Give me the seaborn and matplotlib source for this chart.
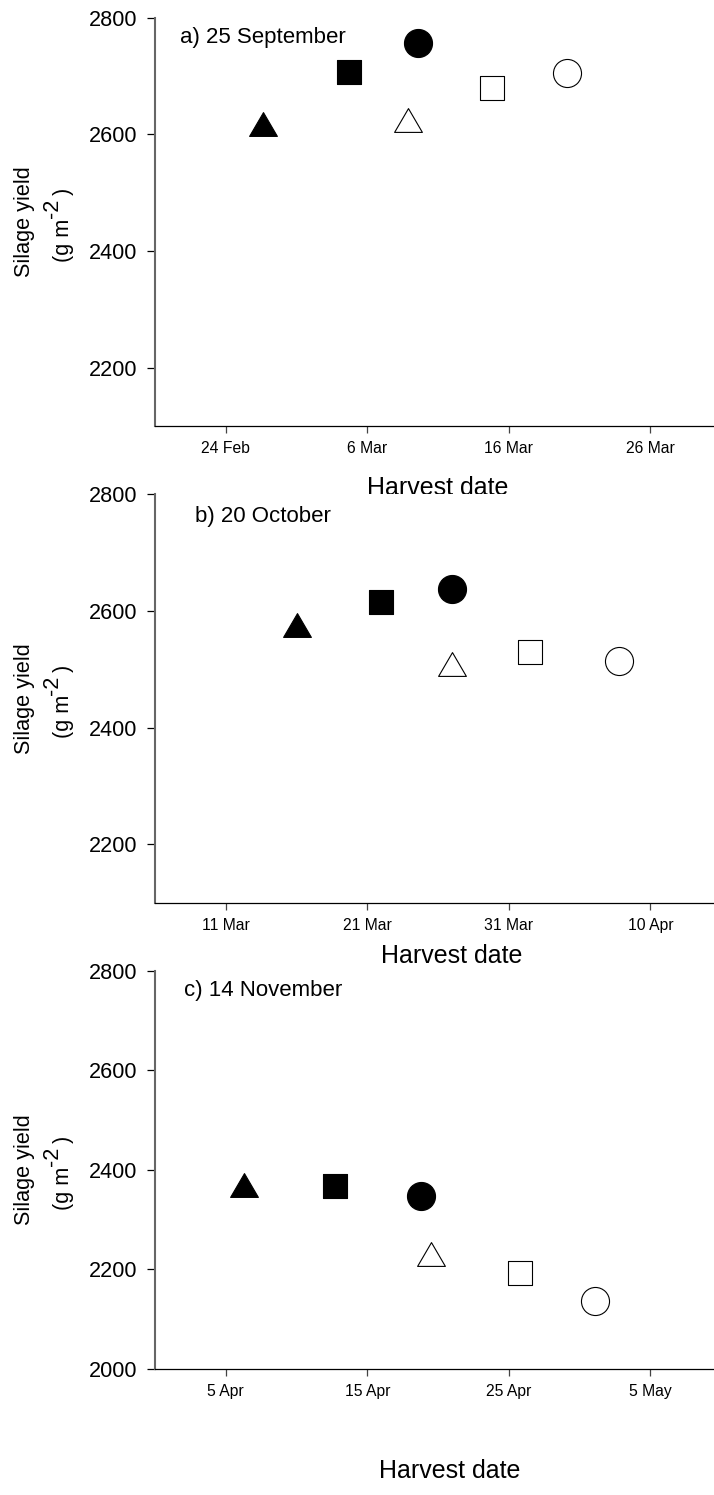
import matplotlib
matplotlib.use("Agg")
import numpy as np
import pandas as pd
import seaborn as sns
from matplotlib import pyplot as plt
from matplotlib.path import Path

sns.set_style("white")
plt.rcParams['font.family'] = ['Liberation Sans', 'DejaVu Sans']
plt.rcParams['text.color'] = 'black'
plt.rcParams['axes.labelcolor'] = 'black'
plt.rcParams['xtick.color'] = 'black'
plt.rcParams['ytick.color'] = 'black'

# sowing date panels
panels = ["a) 25 September", "b) 20 October", "c) 14 November"]
series = ["tri_filled", "sq_filled", "circ_filled", "tri_open", "sq_open", "circ_open"]

# harvest date as day of year (non-leap year), silage yield g m-2
doy_a = [57.6, 63.7, 68.6, 67.9, 73.8, 79.1]
yield_a = [2618, 2706, 2757, 2624, 2679, 2705]
doy_b = [75.0, 81.0, 86.0, 86.0, 91.5, 97.8]
yield_b = [2576, 2615, 2638, 2509, 2530, 2514]
doy_c = [96.3, 102.7, 108.8, 109.5, 115.8, 121.1]
yield_c = [2370, 2367, 2348, 2230, 2192, 2137]

ticks_a = [55, 65, 75, 85]
labels_a = ["24 Feb", "6 Mar", "16 Mar", "26 Mar"]
ticks_b = [70, 80, 90, 100]
labels_b = ["11 Mar", "21 Mar", "31 Mar", "10 Apr"]
ticks_c = [95, 105, 115, 125]
labels_c = ["5 Apr", "15 Apr", "25 Apr", "5 May"]

ylims = [(2100, 2800), (2100, 2800), (2000, 2800)]
yticks = [[2200, 2400, 2600, 2800], [2200, 2400, 2600, 2800], [2000, 2200, 2400, 2600, 2800]]

df = pd.DataFrame({
    "panel": np.repeat(panels, len(series)),
    "series": series * 3,
    "doy": doy_a + doy_b + doy_c,
    "yield": yield_a + yield_b + yield_c,
})

tri = Path([(-1, -0.857), (1, -0.857), (0, 0.857), (-1, -0.857)], closed=True)
styles = {
    "tri_filled": (tri, 400, "black"),
    "sq_filled": ("s", 282, "black"),
    "circ_filled": ("o", 408, "black"),
    "tri_open": (tri, 400, "white"),
    "sq_open": ("s", 282, "white"),
    "circ_open": ("o", 408, "white"),
}

fig = plt.figure(figsize=(7.14, 14.95), dpi=100)
W, H = 714.0, 1495.0
# axes boxes in pixels: left, top, right, bottom
boxes = [(155, 17.5, 714, 426), (155, 494.3, 714, 902.7), (155, 970.7, 714, 1369)]
panel_txt = [(0.0447, 0.937), (0.0716, 0.933), (0.0524, 0.9365)]
xlab_pos = [(0.506, -0.1689), (0.531, -0.1477), (0.528, -0.2737)]
all_ticks = [(ticks_a, labels_a), (ticks_b, labels_b), (ticks_c, labels_c)]


def ptext(x, y, s, **kw):
    fig.text(x / W, 1 - y / H, s, rotation=90, rotation_mode="anchor",
             ha="left", va="baseline", fontsize=15.6, **kw)


for i, name in enumerate(panels):
    l, t, r, b = boxes[i]
    ax = fig.add_axes([l / W, 1 - b / H, (r - l) / W, (b - t) / H])
    ax.set_facecolor("white")
    sub = df[df.panel == name]
    for s in series:
        d = sub[sub.series == s]
        m, sz, fc = styles[s]
        sns.scatterplot(data=d, x="doy", y="yield", ax=ax, marker=m, s=sz,
                        color=fc, edgecolor="black", linewidth=0.8, zorder=3)
    tk, lb = all_ticks[i]
    ax.set_xlim(tk[0] - 5, tk[0] + 34.5)
    ax.set_ylim(*ylims[i])
    ax.set_xticks(tk)
    ax.set_xticklabels(lb)
    ax.set_yticks(yticks[i])
    ax.set_xlabel("")
    ax.set_ylabel("")
    for sp in ["top", "right"]:
        ax.spines[sp].set_visible(False)
    ax.spines["left"].set_color("#666666")
    ax.spines["left"].set_linewidth(1.5)
    ax.spines["bottom"].set_color("black")
    ax.spines["bottom"].set_linewidth(0.9)
    ax.tick_params(axis="y", direction="out", length=6, width=0.9, color="black",
                   labelsize=15.6, pad=7, left=True)
    ax.tick_params(axis="x", direction="out", length=5, width=0.9, color="#444444",
                   labelsize=11.3, pad=6, bottom=True)
    ax.text(panel_txt[i][0], panel_txt[i][1], name, transform=ax.transAxes,
            fontsize=16, ha="left", va="baseline")
    ax.text(xlab_pos[i][0], xlab_pos[i][1], "Harvest date", transform=ax.transAxes,
            fontsize=18, ha="center", va="baseline")
    ax.text(-0.2343, 0.5, "Silage yield", transform=ax.transAxes, rotation=90,
            fontsize=15.6, ha="center", va="center")
    # unit line: (g m, raised -2, )
    yc = (t + b) / 2
    ptext(68.5, yc + 40, "(g m")
    ptext(58, yc - 3.5, "-2")
    ptext(68.5, yc - 27, ")")

fig.savefig("out.png", dpi=100, facecolor="white")
